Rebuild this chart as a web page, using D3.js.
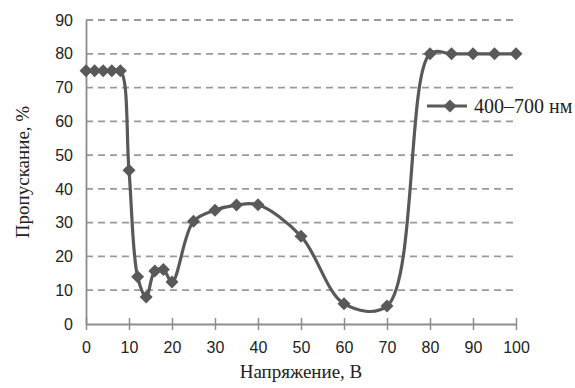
<!DOCTYPE html>
<html>
<head>
<meta charset="utf-8">
<script src="https://cdn.jsdelivr.net/npm/d3@7"></script>
<style>
html,body{margin:0;padding:0;background:#fff;}
svg{display:block;}
</style>
</head>
<body>
<svg id="chart" width="575" height="388"></svg>
<script>
const voltage = [0, 2, 4, 6, 8, 10, 12, 14, 16, 18, 20, 25, 30, 35, 40, 50, 60, 70, 80, 85, 90, 95, 100];
const transmission = [75, 75, 75, 75, 75, 45.5, 14, 8, 15.7, 16.1, 12.4, 30.4, 33.7, 35.2, 35.3, 26, 6, 5.3, 80, 80, 80, 80, 80];
const xTicks = [0, 10, 20, 30, 40, 50, 60, 70, 80, 90, 100];
const yTicks = [0, 10, 20, 30, 40, 50, 60, 70, 80, 90];
const seriesName = "400–700 нм";
const xTitle = "Напряжение, В";
const yTitle = "Пропускание, %";

const svg = d3.select("#chart");
const x = d3.scaleLinear().domain([0, 100]).range([86, 516]);
const y = d3.scaleLinear().domain([0, 90]).range([324, 20]);
const lineColor = "#595959";
const axisColor = "#8c8c8c";

// gridlines
svg.append("g").selectAll("line").data(yTicks.filter(d => d > 0)).join("line")
  .attr("x1", x(0)).attr("x2", x(100))
  .attr("y1", d => y(d)).attr("y2", d => y(d))
  .attr("stroke", "#999").attr("stroke-width", 1.8)
  .attr("stroke-dasharray", "7,5");

// y axis
const yAxis = d3.axisLeft(y).tickValues(yTicks).tickSize(0).tickPadding(13).tickFormat(d3.format("d"));
const gy = svg.append("g").attr("transform", `translate(${x(0)},0)`).call(yAxis);
gy.select(".domain").attr("stroke", axisColor).attr("stroke-width", 1.8);
gy.selectAll("text").attr("font-family", "Liberation Sans, Arial, sans-serif").attr("font-size", 16).attr("fill", "#222");

// x axis with cross ticks
const xAxis = d3.axisBottom(x).tickValues(xTicks).tickSizeInner(6).tickSizeOuter(0).tickPadding(12).tickFormat(d3.format("d"));
const gx = svg.append("g").attr("transform", `translate(0,${y(0)})`).call(xAxis);
gx.select(".domain").attr("stroke", axisColor).attr("stroke-width", 1.8);
gx.selectAll(".tick line").attr("stroke", axisColor).attr("stroke-width", 1.5).attr("y1", -6).attr("y2", 6);
gx.selectAll("text").attr("font-family", "Liberation Sans, Arial, sans-serif").attr("font-size", 16).attr("fill", "#222");

// series line
const data = voltage.map((v, i) => [v, transmission[i]]);
const line = d3.line().x(d => x(d[0])).y(d => y(d[1])).curve(d3.curveCatmullRom.alpha(0.5));
svg.append("path").datum(data).attr("d", line)
  .attr("fill", "none").attr("stroke", lineColor).attr("stroke-width", 3.2);

const diamond = (cx, cy, r) => `M${cx},${cy - r}L${cx + r},${cy}L${cx},${cy + r}L${cx - r},${cy}Z`;
svg.append("g").selectAll("path").data(data).join("path")
  .attr("d", d => diamond(x(d[0]), y(d[1]), 6.5))
  .attr("fill", lineColor);

// legend
const lg = svg.append("g");
lg.append("line").attr("x1", 427).attr("x2", 467).attr("y1", 106).attr("y2", 106)
  .attr("stroke", lineColor).attr("stroke-width", 3.2);
lg.append("path").attr("d", diamond(450, 106, 6.5)).attr("fill", lineColor);
lg.append("text").attr("x", 474).attr("y", 113).text(seriesName)
  .attr("font-family", "Liberation Serif, Times New Roman, serif").attr("font-size", 20).attr("fill", "#222");

// axis titles
svg.append("text").attr("x", 301).attr("y", 378).attr("text-anchor", "middle").text(xTitle)
  .attr("font-family", "Liberation Serif, Times New Roman, serif").attr("font-size", 19).attr("fill", "#222");
svg.append("text").attr("transform", `translate(29,172) rotate(-90)`).attr("text-anchor", "middle").text(yTitle)
  .attr("font-family", "Liberation Serif, Times New Roman, serif").attr("font-size", 19).attr("fill", "#222");
</script>
</body>
</html>
